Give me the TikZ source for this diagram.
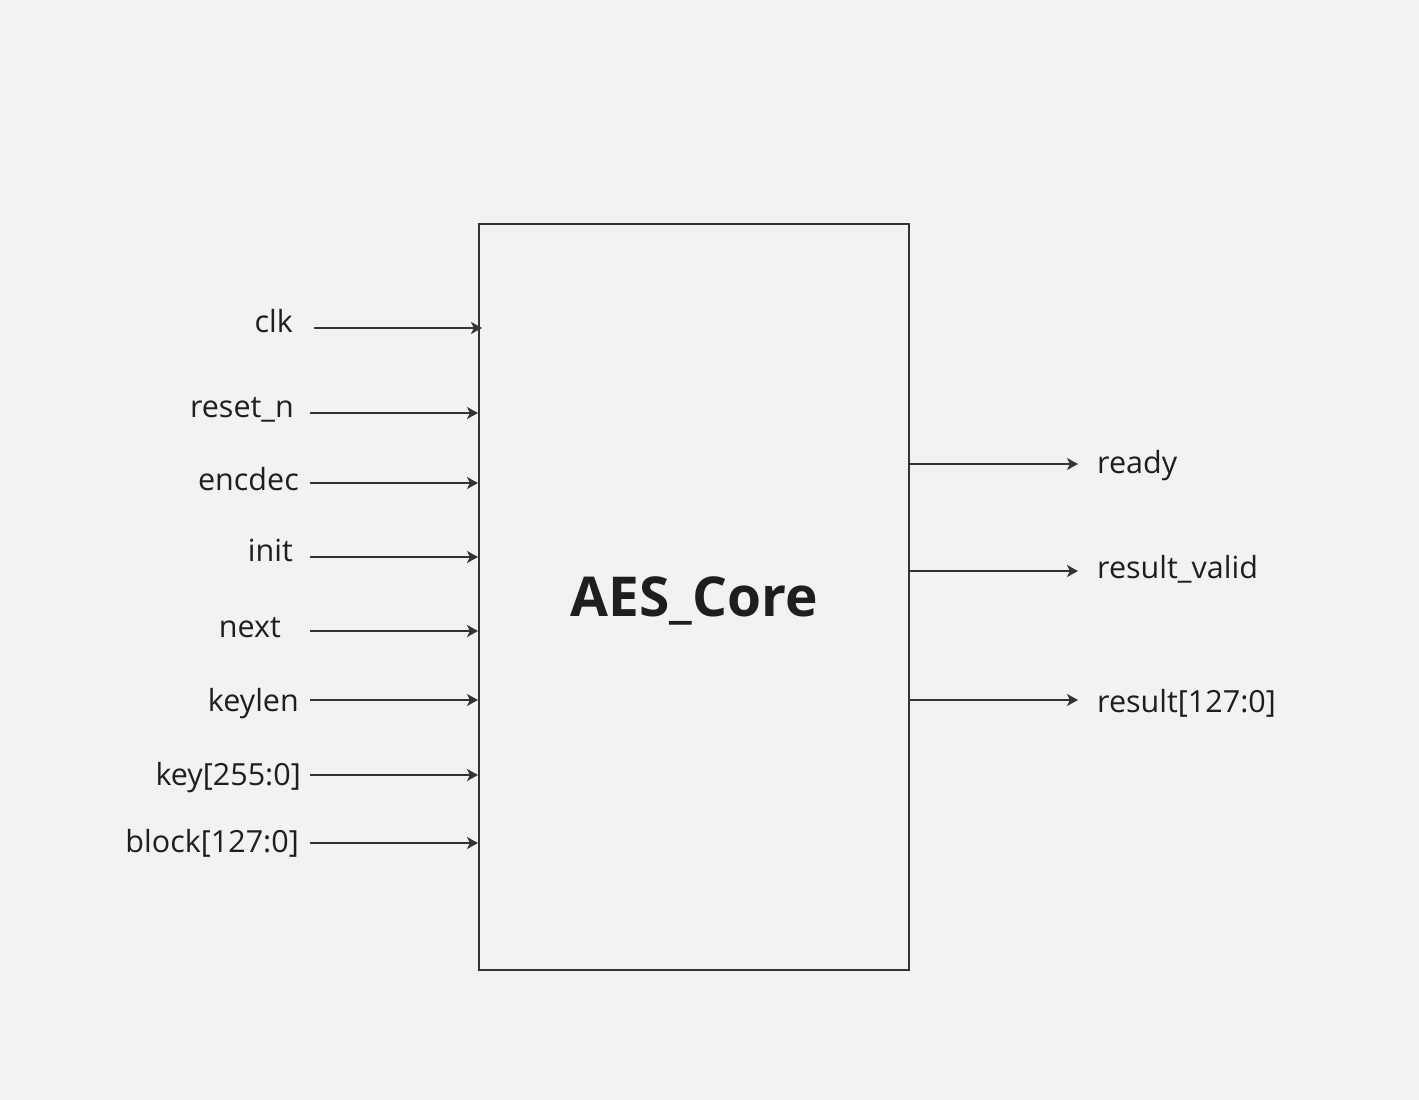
\documentclass[tikz,border=0pt]{standalone}
\usepackage{fontspec}
\setmainfont{Open Sans}
\usetikzlibrary{arrows.meta}
\definecolor{bgc}{HTML}{F2F2F2}
\definecolor{linec}{HTML}{333333}
\definecolor{textc}{HTML}{1E1E1E}
\begin{document}
\begin{tikzpicture}[x=1pt,y=-1pt,
  sig/.style={draw=linec,line width=1.6pt,-{Stealth[length=11pt,width=12pt,inset=3pt]}},
  inlab/.style={anchor=base east,inner sep=0pt,font=\fontsize{30.5}{36}\selectfont,text=textc},
  outlab/.style={anchor=base west,inner sep=0pt,font=\fontsize{30.5}{36}\selectfont,text=textc}]
\fill[bgc] (0,0) rectangle (1419,1100);
\useasboundingbox (0,0) rectangle (1419,1100);
\node[draw=linec,line width=1.6pt,minimum width=430pt,minimum height=746pt,inner sep=0pt,anchor=north west] (core) at (478,223) {};
\node[inner sep=0pt,anchor=base,font=\bfseries\fontsize{55}{62}\selectfont,text=textc] (title) at (694,616) {AES\_Core};
% inputs
\node[inlab] (lclk) at (293,332) {clk};
\node[inlab] (lrst) at (294,417) {reset\_n};
\node[inlab] (lenc) at (299,490) {encdec};
\node[inlab] (linit) at (293,561) {init};
\node[inlab] (lnext) at (281,637) {next};
\node[inlab] (lkeylen) at (299,711) {keylen};
\node[inlab] (lkey) at (301,785) {key[255:0]};
\node[inlab] (lblock) at (299,852) {block[127:0]};
\coordinate (sclk) at (314,328);
\coordinate (eclk) at (482,328);
\coordinate (srst) at (310,413);
\coordinate (senc) at (310,483);
\coordinate (sinit) at (310,557);
\coordinate (snext) at (310,631);
\coordinate (skeylen) at (310,700);
\coordinate (skey) at (310,775);
\coordinate (sblock) at (310,843);
\draw[sig] (sclk) -- (eclk);
\draw[sig] (srst) -- (core.west |- srst);
\draw[sig] (senc) -- (core.west |- senc);
\draw[sig] (sinit) -- (core.west |- sinit);
\draw[sig] (snext) -- (core.west |- snext);
\draw[sig] (skeylen) -- (core.west |- skeylen);
\draw[sig] (skey) -- (core.west |- skey);
\draw[sig] (sblock) -- (core.west |- sblock);
% outputs
\coordinate (eready) at (1078,464);
\coordinate (evalid) at (1078,571);
\coordinate (eresult) at (1078,700);
\draw[sig] (core.east |- eready) -- (eready);
\draw[sig] (core.east |- evalid) -- (evalid);
\draw[sig] (core.east |- eresult) -- (eresult);
\node[outlab] (lready) at (1097,473) {ready};
\node[outlab] (lvalid) at (1097,578) {result\_valid};
\node[outlab] (lresult) at (1097,712) {result[127:0]};
\end{tikzpicture}
\end{document}
